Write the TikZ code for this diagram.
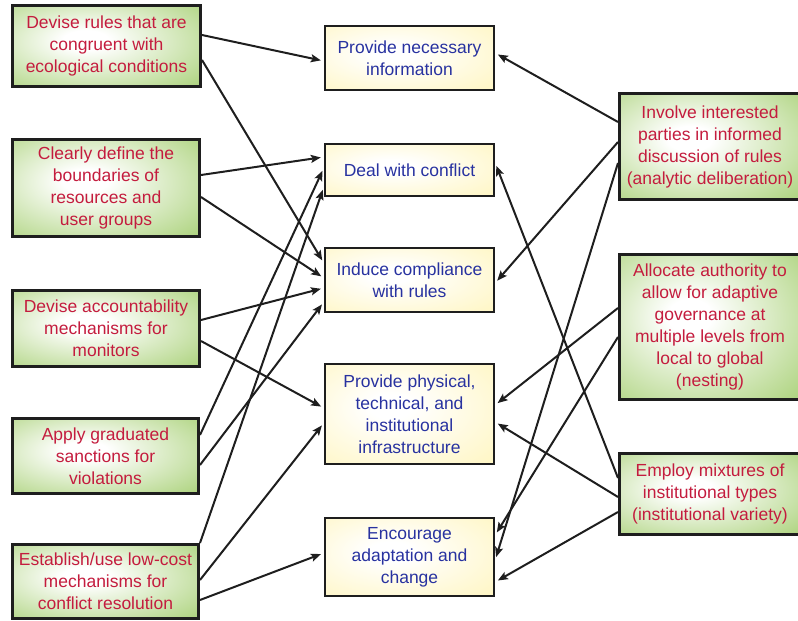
\documentclass[tikz,border=0pt]{standalone}
\usepackage{fontspec}
\setmainfont{Liberation Sans}
\usetikzlibrary{arrows.meta}
\definecolor{gout}{RGB}{145,196,82}
\definecolor{yout}{RGB}{255,243,175}
\definecolor{rtxt}{RGB}{196,28,62}
\definecolor{btxt}{RGB}{40,50,160}
\definecolor{edgec}{RGB}{30,30,30}
\pgfdeclareradialshading{gshade}{\pgfpoint{-6bp}{4bp}}{color(0bp)=(white); color(6bp)=(white); color(50bp)=(gout); color(80bp)=(gout)}
\pgfdeclareradialshading{yshade}{\pgfpoint{-6bp}{4bp}}{color(0bp)=(white); color(6bp)=(white); color(50bp)=(yout); color(80bp)=(yout)}
\begin{document}
\begin{tikzpicture}[x=1pt,y=-1pt,
  gbox/.style={draw=edgec, line width=3pt, shading=gshade, text=rtxt, align=center,
    font=\fontsize{17.5}{22}\selectfont, inner sep=0pt},
  ybox/.style={draw=edgec, line width=2.4pt, shading=yshade, text=btxt, align=center,
    font=\fontsize{17.5}{22}\selectfont, inner sep=0pt},
  link/.style={line width=2pt, draw=edgec, -{Stealth[length=10pt,width=8pt,inset=2pt]}, shorten >=3pt}]
\useasboundingbox (0,0) rectangle (798,621);
% left column
\node[gbox, minimum width=188, minimum height=81] (L1) at (106.5,46) {Devise rules that are\\congruent with\\ecological conditions};
\node[gbox, minimum width=187, minimum height=97] (L2) at (106,188) {Clearly define the\\boundaries of\\resources and\\user groups};
\node[gbox, minimum width=187, minimum height=76] (L3) at (106,328.5) {Devise accountability\\mechanisms for\\monitors};
\node[gbox, minimum width=186, minimum height=75] (L4) at (105.5,456) {Apply graduated\\sanctions for\\violations};
\node[gbox, minimum width=186, minimum height=74] (L5) at (105.5,581.5) {Establish/use low-cost\\mechanisms for\\conflict resolution};
% middle column
\node[ybox, minimum width=169, minimum height=64] (M1) at (409.5,58) {Provide necessary\\information};
\node[ybox, minimum width=169, minimum height=52] (M2) at (409.5,170) {Deal with conflict};
\node[ybox, minimum width=169, minimum height=64] (M3) at (409.5,280) {Induce compliance\\with rules};
\node[ybox, minimum width=169, minimum height=100] (M4) at (409.5,414) {Provide physical,\\technical, and\\institutional\\infrastructure};
\node[ybox, minimum width=169, minimum height=78] (M5) at (409.5,557) {Encourage\\adaptation and\\change};
% right column
\node[gbox, minimum width=181, minimum height=106] (R1) at (710,146.5) {Involve interested\\parties in informed\\discussion of rules\\(analytic deliberation)};
\node[gbox, minimum width=181, minimum height=145] (R2) at (710,327) {Allocate authority to\\allow for adaptive\\governance at\\multiple levels from\\local to global\\(nesting)};
\node[gbox, minimum width=181, minimum height=81] (R3) at (710,494) {Employ mixtures of\\institutional types\\(institutional variety)};
% left connectors
\draw[link] ([yshift=11pt]L1.east) -- ([yshift=-3pt]M1.west);
\draw[link] ([yshift=-14pt]L1.east) -- ([yshift=17pt]M3.west);
\draw[link] ([yshift=13pt]L2.east) -- ([yshift=13pt]M2.west);
\draw[link] ([yshift=-9pt]L2.east) -- ([yshift=2pt]M3.west);
\draw[link] ([yshift=8.5pt]L3.east) -- ([yshift=-8pt]M3.west);
\draw[link] ([yshift=-12.5pt]L3.east) -- ([yshift=6pt]M4.west);
\draw[link] ([yshift=21pt]L4.east) -- ([yshift=2pt]M2.west);
\draw[link] ([yshift=-9pt]L4.east) -- ([yshift=-22pt]M3.west);
\draw[link] ([yshift=38.5pt]L5.east) -- ([yshift=-17pt]M2.west);
\draw[link] ([yshift=1.5pt]L5.east) -- ([yshift=-9pt]M4.west);
\draw[link] ([yshift=-18.5pt]L5.east) -- ([yshift=4pt]M5.west);
% right connectors
\draw[link] ([yshift=24.5pt]R1.west) -- ([yshift=5pt]M1.east);
\draw[link] ([yshift=4.5pt]R1.west) -- ([yshift=-3pt]M3.east);
\draw[link] ([yshift=-16.5pt]R1.west) -- ([yshift=-3pt]M5.east);
\draw[link] ([yshift=19pt]R2.west) -- ([yshift=9pt]M4.east);
\draw[link] ([yshift=-10pt]R2.west) -- ([yshift=22pt]M5.east);
\draw[link] ([yshift=16pt]R3.west) -- ([yshift=7pt]M2.east);
\draw[link] ([yshift=-3pt]R3.west) -- ([yshift=-8pt]M4.east);
\draw[link] ([yshift=-18pt]R3.west) -- ([yshift=-25pt]M5.east);
\end{tikzpicture}
\end{document}
